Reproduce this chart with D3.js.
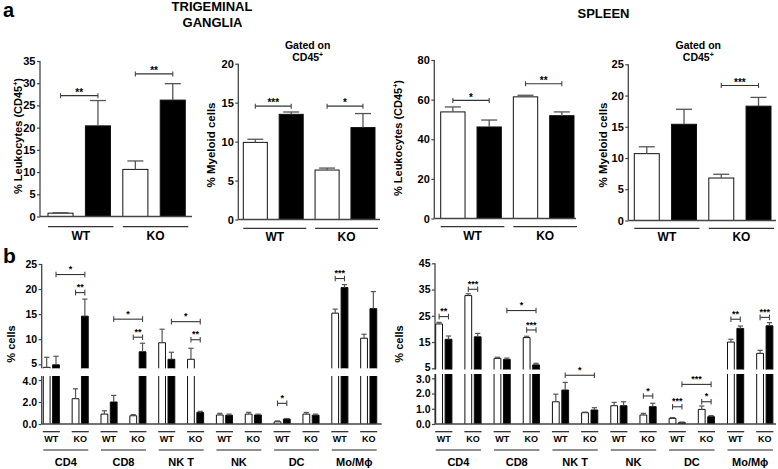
<!DOCTYPE html>
<html><head><meta charset="utf-8">
<script src="https://cdn.jsdelivr.net/npm/d3@7"></script>
<style>
body{margin:0;background:#fff}
svg{display:block}
text{font-family:"Liberation Sans",Arial,sans-serif;font-weight:bold;fill:#000}
</style>
</head><body>
<svg id="c" width="778" height="469"></svg>
<script>
// ===================== DATA =====================
// Panel a: groups and series (open = white bars, filled = black bars)
const aGenotypes = ["WT", "KO"];

const tgLeukOpen = [0.75, 10.6];
const tgLeukOpenSem = [0.1, 1.9];
const tgLeukFilled = [20.4, 26.2];
const tgLeukFilledSem = [5.7, 3.7];
const tgLeukSig = [["WT", "**", 27.2], ["KO", "**", 32.1]];
const tgLeukTicks = [0, 5, 10, 15, 20, 25, 30, 35];

const tgMyeOpen = [9.9, 6.35];
const tgMyeOpenSem = [0.4, 0.25];
const tgMyeFilled = [13.5, 11.8];
const tgMyeFilledSem = [0.3, 1.8];
const tgMyeSig = [["WT", "***", 14.55], ["KO", "*", 14.55]];
const tgMyeTicks = [0, 5, 10, 15, 20];

const spLeukOpen = [53.8, 61.4];
const spLeukOpenSem = [2.5, 0.8];
const spLeukFilled = [46.2, 51.9];
const spLeukFilledSem = [3.5, 1.9];
const spLeukSig = [["WT", "*", 59.6], ["KO", "**", 68]];
const spLeukTicks = [0, 20, 40, 60, 80];

const spMyeOpen = [10.7, 6.8];
const spMyeOpenSem = [1.1, 0.6];
const spMyeFilled = [15.4, 18.3];
const spMyeFilledSem = [2.4, 1.4];
const spMyeSig = [["KO", "***", 21.6]];
const spMyeTicks = [0, 5, 10, 15, 20, 25];

// Panel b: cell types x genotypes (slot order: CD4 WT, CD4 KO, CD8 WT, ...)
const cellTypes = ["CD4", "CD8", "NK T", "NK", "DC", "Mo/M\u03D5"];
const bGenotypes = ["WT", "KO"];

const tgCellsOpen      = [4.4, 2.3, 0.9, 0.75, 9.3, 6.0, 0.82, 0.9, 0.2, 0.9, 15.2, 10.2];
const tgCellsOpenSem   = [2.0, 0.9, 0.3, 0.1, 2.7, 2.2, 0.15, 0.16, 0.08, 0.15, 0.8, 0.8];
const tgCellsFilled    = [4.9, 14.6, 2.0, 7.5, 6.0, 1.05, 0.8, 0.82, 0.45, 0.8, 20.3, 16.1];
const tgCellsFilledSem = [1.7, 3.4, 0.6, 1.7, 1.4, 0.1, 0.1, 0.08, 0.05, 0.1, 0.6, 3.4];
// [fromSlot, fromSeries, toSlot, toSeries, label, level]
const tgCellsSig = [
  [0, "filled", 1, "filled", "*", 22.9],
  [1, "open", 1, "filled", "**", 19.3],
  [2, "filled", 3, "filled", "*", 14.0],
  [3, "open", 3, "filled", "**", 10.4],
  [4, "filled", 5, "filled", "*", 13.5],
  [5, "open", 5, "filled", "**", 9.9],
  [8, "open", 8, "filled", "*", 1.88],
  [10, "open", 10, "filled", "***", 22.1]
];
const tgCellsTicksTop = [5, 10, 15, 20, 25];
const tgCellsTicksBot = [0, 2, 4];

const spCellsOpen      = [21.9, 32.7, 8.8, 16.7, 1.46, 0.74, 1.2, 0.59, 0.37, 0.96, 15.0, 10.7];
const spCellsOpenSem   = [0.6, 0.7, 0.4, 0.5, 0.5, 0.04, 0.22, 0.11, 0.05, 0.22, 1.05, 1.15];
const spCellsFilled    = [16.05, 17.0, 8.4, 6.3, 2.23, 0.92, 1.2, 1.14, 0.09, 0.48, 20.2, 21.2];
const spCellsFilledSem = [1.25, 1.3, 0.5, 0.6, 0.5, 0.15, 0.26, 0.22, 0.04, 0.07, 0.9, 1.2];
const spCellsSig = [
  [0, "open", 0, "filled", "**", 24.7],
  [1, "open", 1, "filled", "***", 35.1],
  [2, "filled", 3, "filled", "*", 27.0],
  [3, "open", 3, "filled", "***", 19.6],
  [4, "filled", 5, "filled", "*", 3.2],
  [7, "open", 7, "filled", "*", 1.84],
  [8, "open", 8, "filled", "***", 1.13],
  [8, "filled", 9, "filled", "***", 2.6],
  [9, "open", 9, "filled", "*", 1.46],
  [10, "open", 10, "filled", "**", 23.7],
  [11, "open", 11, "filled", "***", 24.4]
];
const spCellsTicksTop = [5, 15, 25, 35, 45];
const spCellsTicksBot = [0, 1, 2, 3];

// ===================== DRAWING =====================
const svg = d3.select("#c");
const AX = "#444", ERR = "#555";

function styleAxis(sel, fs) {
  sel.select(".domain").remove();
  sel.selectAll(".tick line").attr("stroke", AX).attr("stroke-width", 1.2);
  sel.selectAll(".tick text").attr("font-size", fs).attr("font-family", '"Liberation Sans",Arial,sans-serif').attr("font-weight", "bold").attr("fill", "#000");
}
function vline(g, x, y1, y2, w) {
  g.append("line").attr("x1", x).attr("x2", x).attr("y1", y1).attr("y2", y2).attr("stroke", AX).attr("stroke-width", w || 1.3);
}
function hline(g, x1, x2, y, w, c) {
  g.append("line").attr("x1", x1).attr("x2", x2).attr("y1", y).attr("y2", y).attr("stroke", c || AX).attr("stroke-width", w || 1.3);
}
function bracket(g, x1, x2, y, label, tick, fs, dy) {
  hline(g, x1, x2, y, 1.1, "#333");
  vline(g, x1, y - tick, y + tick, 1.1);
  vline(g, x2, y - tick, y + tick, 1.1);
  g.append("text").attr("x", (x1 + x2) / 2).attr("y", y + dy).attr("text-anchor", "middle").attr("font-size", fs).text(label);
}
function yLabel(g, cx, cy, parts, fs) {
  const t = g.append("text").attr("transform", `translate(${cx + fs * 0.35},${cy}) rotate(-90)`).attr("text-anchor", "middle").attr("font-size", fs);
  parts.forEach(p => {
    const ts = t.append("tspan").text(p.t);
    if (p.sup) ts.attr("font-size", fs * 0.65).attr("dy", -fs * 0.4);
    if (p.after) ts.attr("dy", fs * 0.4);
  });
}

function panelA(cfg) {
  const g = svg.append("g");
  const y = d3.scaleLinear().domain([0, cfg.ticks[cfg.ticks.length - 1]]).range([cfg.y0, cfg.yTop]);
  const bars = [];
  aGenotypes.forEach((gt, i) => {
    bars.push({ key: gt + "-open", gt, s: "open", v: cfg.open[i], e: cfg.openSem[i] });
    bars.push({ key: gt + "-filled", gt, s: "filled", v: cfg.filled[i], e: cfg.filledSem[i] });
  });
  const x = d3.scaleBand().domain(bars.map(d => d.key)).range([cfg.bx0, cfg.bx1]).paddingInner(0.33).paddingOuter(0);
  const bw = x.bandwidth();
  const axg = g.append("g").attr("transform", `translate(${cfg.axisX},0)`)
    .call(d3.axisLeft(y).tickValues(cfg.ticks).tickSize(3).tickSizeOuter(0).tickPadding(1.5));
  styleAxis(axg, 11);
  vline(g, cfg.axisX, cfg.y0, cfg.yTop);
  // bars
  g.selectAll("rect.bar").data(bars).join("rect")
    .attr("x", d => x(d.key)).attr("width", bw)
    .attr("y", d => y(d.v)).attr("height", d => cfg.y0 - y(d.v))
    .attr("fill", d => d.s === "open" ? "#fff" : "#000").attr("stroke", "#111").attr("stroke-width", 1);
  hline(g, cfg.axisX, cfg.xEnd, cfg.y0);
  // error bars
  bars.forEach(d => {
    const cx = x(d.key) + bw / 2;
    g.append("line").attr("x1", cx).attr("x2", cx).attr("y1", y(d.v)).attr("y2", y(d.v + d.e)).attr("stroke", ERR).attr("stroke-width", 1.3);
    hline(g, cx - 8, cx + 8, y(d.v + d.e), 1.3, ERR);
  });
  // significance
  cfg.sig.forEach(([gt, lab, lev]) => {
    bracket(g, x(gt + "-open") + bw / 2, x(gt + "-filled") + bw / 2, y(lev), lab, 2.5, 10, 0.3);
  });
  // group lines / labels
  aGenotypes.forEach(gt => {
    const x1 = x(gt + "-open"), x2 = x(gt + "-filled") + bw + 3;
    hline(g, x1, x2, cfg.gy, 1.2, "#333");
    g.append("text").attr("x", (x1 + x2) / 2).attr("y", cfg.gy + 13).attr("text-anchor", "middle").attr("font-size", 12).text(gt);
  });
  yLabel(g, cfg.labX, cfg.labY, cfg.label, cfg.labFs);
  if (cfg.gated) {
    g.append("text").attr("x", cfg.gated[0]).attr("y", cfg.gated[1]).attr("text-anchor", "middle").attr("font-size", 10.5).text("Gated on");
    const t = g.append("text").attr("x", cfg.gated[0]).attr("y", cfg.gated[1] + 12).attr("text-anchor", "middle").attr("font-size", 10.5);
    t.append("tspan").text("CD45");
    t.append("tspan").text("+").attr("font-size", 7).attr("dy", -4);
  }
}

function panelB(cfg) {
  const g = svg.append("g");
  const yTop = d3.scaleLinear().domain([cfg.ticksTop[0], cfg.ticksTop[cfg.ticksTop.length - 1]]).range(cfg.topRange);
  const yBot = d3.scaleLinear().domain([0, cfg.ticksBot[cfg.ticksBot.length - 1]]).range(cfg.botRange);
  const topMin = yTop.invert(cfg.topSegBottom);
  const botMax = yBot.invert(cfg.botSegTop);
  const yv = v => (v > topMin ? yTop(v) : yBot(v));
  const keys = cellTypes.flatMap(c => bGenotypes.map(gt => c + "|" + gt));
  const xs = d3.scaleBand().domain(keys).range([cfg.slot0, cfg.slot0 + keys.length * cfg.pitch]).paddingInner(0).paddingOuter(0);
  const xi = d3.scaleBand().domain(["open", "filled"]).range([0, cfg.pairW]).paddingInner(cfg.innerPad);
  const bw = xi.bandwidth();
  const y0 = cfg.botRange[0];
  // axes
  const at = g.append("g").attr("transform", `translate(${cfg.axisX},0)`)
    .call(d3.axisLeft(yTop).tickValues(cfg.ticksTop).tickSize(3).tickSizeOuter(0).tickPadding(1.5));
  styleAxis(at, 10.5);
  const ab = g.append("g").attr("transform", `translate(${cfg.axisX},0)`)
    .call(d3.axisLeft(yBot).tickValues(cfg.ticksBot).tickSize(3).tickSizeOuter(0).tickPadding(1.5));
  styleAxis(ab, 10.5);
  // nudge the two labels next to the break apart a little
  at.selectAll(".tick").filter(d => d === cfg.ticksTop[0]).select("text").attr("dy", "0.2em");
  ab.selectAll(".tick").filter(d => d === cfg.ticksBot[cfg.ticksBot.length - 1]).select("text").attr("dy", "0.42em");
  vline(g, cfg.axisX, cfg.topSegBottom, cfg.topRange[1]);
  vline(g, cfg.axisX, y0, cfg.botSegTop);
  // bars
  const bars = [];
  keys.forEach((k, i) => {
    bars.push({ k, i, s: "open", v: cfg.open[i], e: cfg.openSem[i] });
    bars.push({ k, i, s: "filled", v: cfg.filled[i], e: cfg.filledSem[i] });
  });
  bars.forEach(d => {
    const xl = xs(d.k) + xi(d.s), xr = xl + bw;
    const fill = d.s === "open" ? "#fff" : "#000";
    // bottom segment
    const clipped = d.v > botMax;
    const bt = clipped ? cfg.botSegTop : yBot(d.v);
    g.append("rect").attr("x", xl).attr("y", bt).attr("width", bw).attr("height", y0 - bt).attr("fill", fill);
    g.append("path").attr("d", clipped ? `M${xl},${y0}V${bt}M${xr},${y0}V${bt}` : `M${xl},${y0}V${bt}H${xr}V${y0}`)
      .attr("fill", "none").attr("stroke", "#111").attr("stroke-width", 1);
    // top segment
    if (d.v > topMin) {
      const tt = yTop(d.v), tb = cfg.topSegBottom;
      g.append("rect").attr("x", xl).attr("y", tt).attr("width", bw).attr("height", tb - tt).attr("fill", fill);
      g.append("path").attr("d", `M${xl},${tb}V${tt}H${xr}V${tb}`).attr("fill", "none").attr("stroke", "#111").attr("stroke-width", 1);
    }
    // error bar
    const cx = (xl + xr) / 2;
    const ya = yv(d.v), yb = d.v > topMin ? yTop(d.v + d.e) : yv(d.v + d.e);
    g.append("line").attr("x1", cx).attr("x2", cx).attr("y1", ya).attr("y2", yb).attr("stroke", ERR).attr("stroke-width", 1.2);
    hline(g, cx - 2.6, cx + 2.6, yb, 1.2, ERR);
  });
  hline(g, cfg.axisX, cfg.xEnd, y0);
  // significance
  cfg.sig.forEach(([a, as, b, bs, lab, lev]) => {
    const x1 = xs(keys[a]) + xi(as) + bw / 2, x2 = xs(keys[b]) + xi(bs) + bw / 2;
    bracket(g, x1, x2, yv(lev), lab, 2.8, 9, -2.3);
  });
  // labels
  keys.forEach(k => {
    const x1 = xs(k) - 0.5, x2 = xs(k) + cfg.pairW + 0.5;
    hline(g, x1, x2, 431.7, 1.2, "#222");
    g.append("text").attr("x", (x1 + x2) / 2).attr("y", 442).attr("text-anchor", "middle").attr("font-size", 9).text(k.split("|")[1]);
  });
  cellTypes.forEach(c => {
    const x1 = xs(c + "|WT"), x2 = xs(c + "|KO") + cfg.pairW;
    hline(g, x1, x2, 450, 1.2, "#222");
    g.append("text").attr("x", (x1 + x2) / 2).attr("y", 466).attr("text-anchor", "middle").attr("font-size", 11).text(c);
  });
  yLabel(g, cfg.labX, 344, [{ t: "% cells" }], 11);
}

// Panel a charts
panelA({ open: tgLeukOpen, openSem: tgLeukOpenSem, filled: tgLeukFilled, filledSem: tgLeukFilledSem, sig: tgLeukSig, ticks: tgLeukTicks,
  axisX: 40, xEnd: 192, y0: 216.5, yTop: 61, bx0: 48, bx1: 185.3, gy: 226.7, labX: 18.5, labY: 136, labFs: 11,
  label: [{ t: "% Leukocytes (CD45" }, { t: "+", sup: true }, { t: ")", after: true }] });
panelA({ open: tgMyeOpen, openSem: tgMyeOpenSem, filled: tgMyeFilled, filledSem: tgMyeFilledSem, sig: tgMyeSig, ticks: tgMyeTicks,
  axisX: 238.3, xEnd: 380, y0: 219.5, yTop: 63.7, bx0: 243.3, bx1: 375, gy: 228.3, labX: 211.2, labY: 145, labFs: 11.5,
  label: [{ t: "% Myeloid cells" }], gated: [307.7, 48.5] });
panelA({ open: spLeukOpen, openSem: spLeukOpenSem, filled: spLeukFilled, filledSem: spLeukFilledSem, sig: spLeukSig, ticks: spLeukTicks,
  axisX: 434.3, xEnd: 576, y0: 218.5, yTop: 60, bx0: 440.7, bx1: 574, gy: 226.7, labX: 398.5, labY: 138, labFs: 11,
  label: [{ t: "% Leukocytes (CD45" }, { t: "+", sup: true }, { t: ")", after: true }] });
panelA({ open: spMyeOpen, openSem: spMyeOpenSem, filled: spMyeFilled, filledSem: spMyeFilledSem, sig: spMyeSig, ticks: spMyeTicks,
  axisX: 628.3, xEnd: 776, y0: 220.5, yTop: 64.3, bx0: 634.3, bx1: 771, gy: 228.3, labX: 602.5, labY: 145, labFs: 11.5,
  label: [{ t: "% Myeloid cells" }], gated: [698.3, 49] });

// Panel b charts
panelB({ open: tgCellsOpen, openSem: tgCellsOpenSem, filled: tgCellsFilled, filledSem: tgCellsFilledSem, sig: tgCellsSig,
  ticksTop: tgCellsTicksTop, ticksBot: tgCellsTicksBot,
  axisX: 41.7, xEnd: 381.7, topRange: [364.3, 264], botRange: [424, 380], topSegBottom: 368.3, botSegTop: 376,
  slot0: 43.3, pitch: 28.85, pairW: 16.1, innerPad: 0.27, labX: 11 });
panelB({ open: spCellsOpen, openSem: spCellsOpenSem, filled: spCellsFilled, filledSem: spCellsFilledSem, sig: spCellsSig,
  ticksTop: spCellsTicksTop, ticksBot: spCellsTicksBot,
  axisX: 435, xEnd: 776, topRange: [368.3, 263.3], botRange: [424, 378.3], topSegBottom: 369.5, botSegTop: 374,
  slot0: 435.7, pitch: 29.18, pairW: 16.2, innerPad: 0.277, labX: 399 });

// Titles and panel letters
svg.append("text").attr("x", 3).attr("y", 17).attr("font-size", 20).text("a");
svg.append("text").attr("x", 3).attr("y", 263).attr("font-size", 21).text("b");
svg.append("text").attr("x", 212).attr("y", 11).attr("text-anchor", "middle").attr("font-size", 13).text("TRIGEMINAL");
svg.append("text").attr("x", 212.5).attr("y", 27).attr("text-anchor", "middle").attr("font-size", 13).text("GANGLIA");
svg.append("text").attr("x", 603.5).attr("y", 18.3).attr("text-anchor", "middle").attr("font-size", 13).text("SPLEEN");
</script>
</body></html>
